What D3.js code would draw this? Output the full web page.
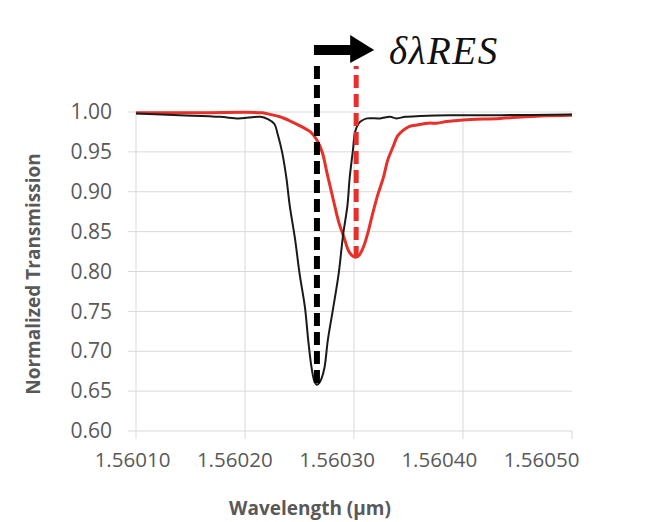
<!DOCTYPE html>
<html>
<head>
<meta charset="utf-8">
<script src="https://cdn.jsdelivr.net/npm/d3@7"></script>
<style>
  html, body { margin: 0; padding: 0; background: #fff; }
  svg { display: block; }
</style>
</head>
<body>
<svg id="chart"></svg>
<script>
// wavelength ticks (um) and transmission ticks
const xTicks = [1.5601, 1.5602, 1.5603, 1.5604, 1.5605];
const yTicks = [0.60, 0.65, 0.70, 0.75, 0.80, 0.85, 0.90, 0.95, 1.00];

// reference resonance (black)
const refWavelength = [1.560100, 1.560140, 1.560177, 1.560194, 1.560203, 1.560214, 1.560221, 1.560227,
  1.560230, 1.560234, 1.560238, 1.560241, 1.560246, 1.560250, 1.560255, 1.560258, 1.560261, 1.560264,
  1.560266, 1.560268, 1.560270, 1.560273, 1.560276, 1.560281, 1.560286, 1.560290, 1.560294, 1.560296,
  1.560299, 1.560301, 1.560304, 1.560307, 1.560312, 1.560324, 1.560333, 1.560339, 1.560347, 1.560361,
  1.560388, 1.560434, 1.560500];
const refTransmission = [0.998, 0.996, 0.994, 0.992, 0.993, 0.994, 0.991, 0.985,
  0.972, 0.950, 0.917, 0.883, 0.840, 0.798, 0.755, 0.714, 0.680, 0.661,
  0.658, 0.660, 0.665, 0.680, 0.714, 0.755, 0.798, 0.846, 0.883, 0.917,
  0.952, 0.975, 0.985, 0.989, 0.992, 0.992, 0.994, 0.992, 0.994, 0.995,
  0.996, 0.996, 0.997];

// shifted resonance (red)
const shiftWavelength = [1.560100, 1.560159, 1.560216, 1.560223, 1.560232, 1.560241, 1.560250, 1.560260,
  1.560266, 1.560271, 1.560275, 1.560281, 1.560286, 1.560291, 1.560295, 1.560299, 1.560302, 1.560305,
  1.560309, 1.560313, 1.560317, 1.560322, 1.560327, 1.560331, 1.560336, 1.560340, 1.560345, 1.560351,
  1.560359, 1.560368, 1.560376, 1.560385, 1.560400, 1.560434, 1.560471, 1.560500];
const shiftTransmission = [0.999, 0.999, 0.999, 0.997, 0.994, 0.989, 0.983, 0.975,
  0.965, 0.949, 0.925, 0.890, 0.862, 0.842, 0.826, 0.819, 0.818, 0.821,
  0.832, 0.850, 0.872, 0.897, 0.918, 0.940, 0.957, 0.970, 0.977, 0.982,
  0.984, 0.986, 0.986, 0.988, 0.990, 0.992, 0.995, 0.996];

const width = 647, height = 522;
const plotLeft = 136, plotRight = 572, plotTop = 112, plotBottom = 431;
const grey = '#595959', gridColor = '#d9d9d9';

const svg = d3.select('#chart').attr('width', width).attr('height', height);
svg.append('rect').attr('width', width).attr('height', height).attr('fill', '#fff');

const x = d3.scaleLinear().domain([1.5601, 1.5605]).range([plotLeft, plotRight]);
const y = d3.scaleLinear().domain([0.60, 1.00]).range([plotBottom, plotTop]);
// tick labels in the figure sit a little inside the gridlines
const xLabel = d3.scaleLinear().domain([1.5601, 1.5605]).range([132, 541]);

// Grid

svg.append('g')
  .selectAll('line')
  .data(yTicks)
  .join('line')
  .attr('x1', plotLeft - 8).attr('x2', plotRight)
  .attr('y1', d => y(d)).attr('y2', d => y(d))
  .attr('stroke', gridColor).attr('stroke-width', 1);

svg.append('g')
  .selectAll('line')
  .data(xTicks.slice(0, -1))
  .join('line')
  .attr('x1', d => x(d)).attr('x2', d => x(d))
  .attr('y1', plotTop).attr('y2', plotBottom + 8)
  .attr('stroke', gridColor).attr('stroke-width', 1);

svg.append('line')
  .attr('x1', plotRight).attr('x2', plotRight)
  .attr('y1', plotBottom).attr('y2', plotBottom + 8)
  .attr('stroke', gridColor);

// Axes labels

svg.append('g')
  .attr('transform', `translate(${plotLeft - 24},0)`)
  .call(d3.axisLeft(y).tickValues(yTicks).tickSize(0).tickPadding(0).tickFormat(d3.format('.2f')))
  .call(g => g.select('.domain').remove())
  .selectAll('text')
  .attr('font-family', '"Open Sans", sans-serif')
  .attr('font-size', 21)
  .attr('fill', grey);

svg.append('g')
  .attr('transform', `translate(0,${plotBottom + 21})`)
  .call(d3.axisBottom(xLabel).tickValues(xTicks).tickSize(0).tickPadding(0).tickFormat(d3.format('.5f')))
  .call(g => g.select('.domain').remove())
  .selectAll('text')
  .attr('font-family', '"Open Sans", sans-serif')
  .attr('font-size', 20.5)
  .attr('fill', grey);

svg.append('text')
  .attr('x', 310).attr('y', 515)
  .attr('text-anchor', 'middle')
  .attr('font-family', '"Open Sans", sans-serif')
  .attr('font-weight', 'bold')
  .attr('font-size', 19)
  .attr('fill', grey)
  .text('Wavelength (µm)');

svg.append('text')
  .attr('transform', 'translate(40,274) rotate(-90)')
  .attr('text-anchor', 'middle')
  .attr('font-family', '"Open Sans", sans-serif')
  .attr('font-weight', 'bold')
  .attr('font-size', 19)
  .attr('fill', grey)
  .text('Normalized Transmission');

// Curves

const line = d3.line()
  .x(d => x(d[0]))
  .y(d => y(d[1]))
  .curve(d3.curveCatmullRom.alpha(0.5));

svg.append('path')
  .datum(d3.zip(shiftWavelength, shiftTransmission))
  .attr('d', line)
  .attr('fill', 'none')
  .attr('stroke', '#e8302a')
  .attr('stroke-width', 3);

svg.append('path')
  .datum(d3.zip(refWavelength, refTransmission))
  .attr('d', line)
  .attr('fill', 'none')
  .attr('stroke', '#1a1a1a')
  .attr('stroke-width', 2);

// Resonance markers

const refMinIdx = d3.minIndex(refTransmission);
const shiftMinIdx = d3.minIndex(shiftTransmission);
const refMinX = x(refWavelength[refMinIdx]);
const shiftMinX = x(shiftWavelength[shiftMinIdx]);

svg.append('line')
  .attr('x1', refMinX).attr('x2', refMinX)
  .attr('y1', 66).attr('y2', y(refTransmission[refMinIdx]))
  .attr('stroke', '#000').attr('stroke-width', 6)
  .attr('stroke-dasharray', '13,6');

svg.append('line')
  .attr('x1', shiftMinX).attr('x2', shiftMinX)
  .attr('y1', 66).attr('y2', y(shiftTransmission[shiftMinIdx]))
  .attr('stroke', '#e8302a').attr('stroke-width', 5)
  .attr('stroke-dasharray', '13,6')
  .attr('stroke-dashoffset', 10); // short first dash at the top

// shift arrow
const ay = 50;
svg.append('path')
  .attr('d', `M${refMinX - 3},${ay - 5} H${shiftMinX - 6} V${ay - 15} L${shiftMinX + 18},${ay} L${shiftMinX - 6},${ay + 13} V${ay + 5} H${refMinX - 3} Z`)
  .attr('fill', '#000');

svg.append('text')
  .attr('x', 389).attr('y', 64)
  .attr('font-family', '"Liberation Serif", "DejaVu Serif", serif')
  .attr('font-style', 'italic')
  .attr('font-size', 39)
  .attr('letter-spacing', 1.5)
  .attr('fill', '#111')
  .text('δλRES');
</script>
</body>
</html>
